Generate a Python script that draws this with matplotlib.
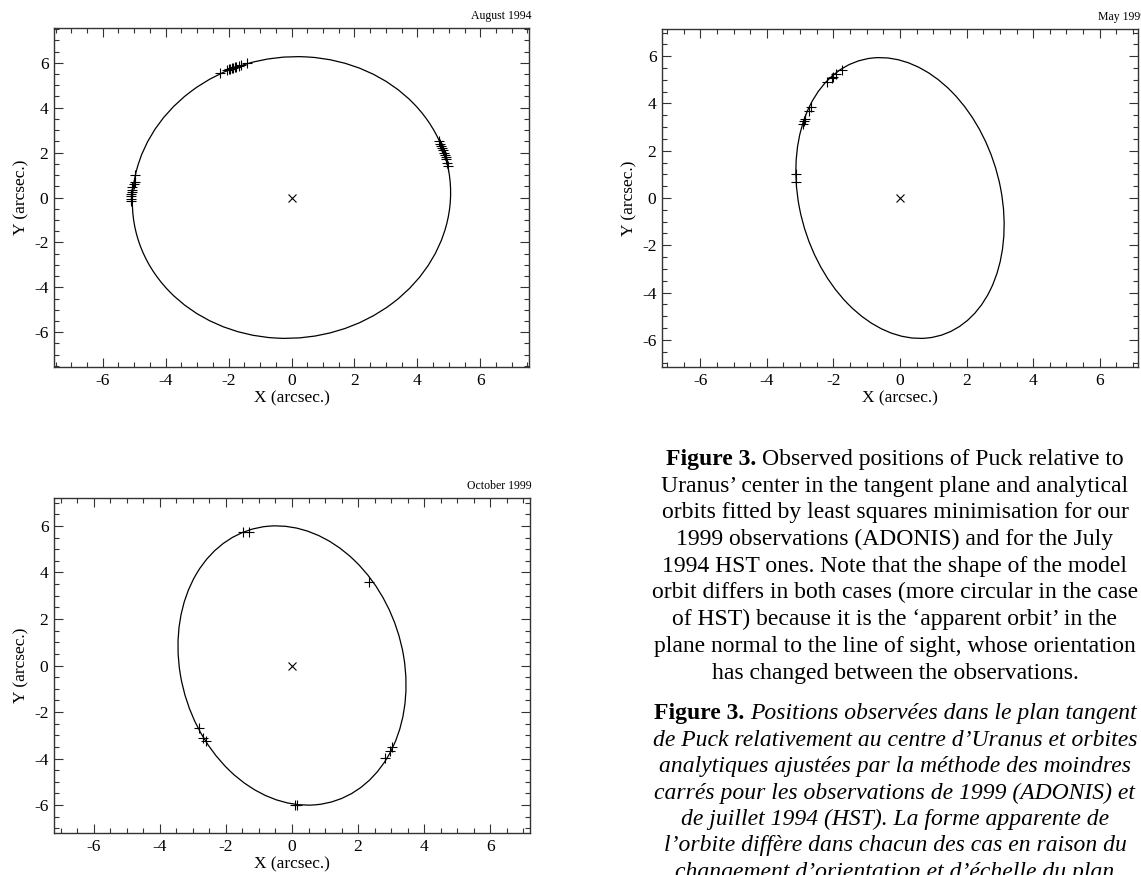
import numpy as np
import matplotlib.pyplot as plt
from matplotlib.patches import Ellipse
from matplotlib.ticker import MultipleLocator

plt.rcParams['font.family'] = ['Liberation Serif', 'DejaVu Serif']
plt.rcParams['axes.unicode_minus'] = False

# panel titles (observation dates)
dates = ['August 1994', 'May 1999', 'October 1999']

# fitted apparent orbits, centred on Uranus (arcsec.)
orbit_semi_minor = [5.05, 3.05, 3.40]
orbit_semi_major = [6.28, 5.98, 6.03]
orbit_tilt = [-4.5, 7.8, 6.7]   # deg, major axis from vertical, ccw

# observed positions of Puck (arcsec.)
aug94_x = [-2.27, -2.05, -2.00, -1.95, -1.90, -1.85, -1.80, -1.75, -1.68, -1.60, -1.42,
           -5.10, -5.10, -5.09, -5.09, -5.08, -5.07, -5.07, -5.02, -4.98, -4.97,
           4.70, 4.72, 4.75, 4.78, 4.82, 4.85, 4.87, 4.90, 4.92, 4.95, 4.98]
aug94_y = [5.55, 5.68, 5.72, 5.74, 5.76, 5.78, 5.80, 5.82, 5.86, 5.90, 6.00,
           -0.15, -0.05, 0.05, 0.15, 0.25, 0.35, 0.45, 0.60, 0.70, 1.00,
           2.50, 2.40, 2.30, 2.20, 2.10, 2.00, 1.90, 1.80, 1.70, 1.55, 1.40]

may99_x = [-3.12, -3.12, -2.92, -2.87, -2.84, -2.73, -2.68, -2.18, -2.05, -2.00, -1.92, -1.75]
may99_y = [1.01, 0.69, 3.12, 3.26, 3.33, 3.68, 3.83, 4.92, 5.06, 5.12, 5.23, 5.41]

oct99_x = [-1.47, -1.30, 2.34, -2.81, -2.68, -2.61, 2.81, 2.97, 3.02, 0.08, 0.14]
oct99_y = [5.72, 5.74, 3.61, -2.70, -3.10, -3.24, -3.99, -3.66, -3.49, -6.01, -6.01]

obs_x = [aug94_x, may99_x, oct99_x]
obs_y = [aug94_y, may99_y, oct99_y]

# half width of the plotted square window
limits = [7.55, 7.15, 7.2]

caption_head = "Figure 3. "
caption_en = [
    "Observed positions of Puck relative to",
    "Uranus’ center in the tangent plane and analytical",
    "orbits fitted by least squares minimisation for our",
    "1999 observations (ADONIS) and for the July",
    "1994 HST ones. Note that the shape of the model",
    "orbit differs in both cases (more circular in the case",
    "of HST) because it is the ‘apparent orbit’ in the",
    "plane normal to the line of sight, whose orientation",
    "has changed between the observations.",
]
caption_fr = [
    "Positions observées dans le plan tangent",
    "de Puck relativement au centre d’Uranus et orbites",
    "analytiques ajustées par la méthode des moindres",
    "carrés pour les observations de 1999 (ADONIS) et",
    "de juillet 1994 (HST). La forme apparente de",
    "l’orbite diffère dans chacun des cas en raison du",
    "changement d’orientation et d’échelle du plan",
]

W, H = 1141, 875
fig = plt.figure(figsize=(W / 100, H / 100), dpi=100)

# axes boxes in pixels: left, top, right, bottom
boxes = [(54, 28, 529, 367), (662, 29, 1138, 367), (54, 498, 530, 833)]
title_dx = [1.5, 6.0, 1.0]

for i, (l, t, r, b) in enumerate(boxes):
    ax = fig.add_axes([l / W, 1 - b / H, (r - l) / W, (b - t) / H])
    lim = limits[i]
    ax.add_patch(Ellipse((0, 0), 2 * orbit_semi_minor[i], 2 * orbit_semi_major[i],
                         angle=orbit_tilt[i], fill=False, ec='black', lw=0.9))
    ax.plot(obs_x[i], obs_y[i], '+', color='black', ms=7.5, mew=0.8)
    ax.plot([0], [0], 'x', color='black', ms=5.5, mew=0.8)
    ax.set_xlim(-lim, lim)
    ax.set_ylim(-lim, lim)
    ax.xaxis.set_major_locator(MultipleLocator(2))
    ax.yaxis.set_major_locator(MultipleLocator(2))
    ax.xaxis.set_minor_locator(MultipleLocator(0.5))
    ax.yaxis.set_minor_locator(MultipleLocator(0.5))
    ax.tick_params(which='both', direction='in', top=True, right=True,
                   width=0.8, color='#333333', labelsize=12.5, pad=4)
    ax.tick_params(which='major', length=6.5)
    ax.tick_params(which='minor', length=3.5)
    for sp in ax.spines.values():
        sp.set_linewidth(1.0)
        sp.set_color('#333333')
    ax.set_xlabel('X (arcsec.)', fontsize=12.5, labelpad=1)
    ax.set_ylabel('Y (arcsec.)', fontsize=12.5, labelpad=3)
    ax.annotate(dates[i], xy=(1, 1), xycoords='axes fraction',
                xytext=(title_dx[i], 6.5), textcoords='offset points',
                ha='right', va='baseline', fontsize=8.5)

# caption: centred lines, the first one of each block starts with a bold head
renderer = fig.canvas.get_renderer()
cx = 895
fs = 17


def caption_block(lines, y0, step, style):
    for k, line in enumerate(lines):
        y = 1 - (y0 + step * k) / H
        if k == 0:
            head = fig.text(0, y, caption_head, fontsize=fs, weight='bold',
                            va='baseline')
            rest = fig.text(0, y, line, fontsize=fs, style=style, va='baseline')
            w1 = head.get_window_extent(renderer).width
            w2 = rest.get_window_extent(renderer).width
            x0 = cx - (w1 + w2) / 2
            head.set_x(x0 / W)
            rest.set_x((x0 + w1) / W)
        else:
            fig.text(cx / W, y, line, ha='center', va='baseline', fontsize=fs,
                     style=style)


caption_block(caption_en, 465, 26.7, 'normal')
caption_block(caption_fr, 719, 26.5, 'italic')

fig.savefig('out.png', dpi=100)
